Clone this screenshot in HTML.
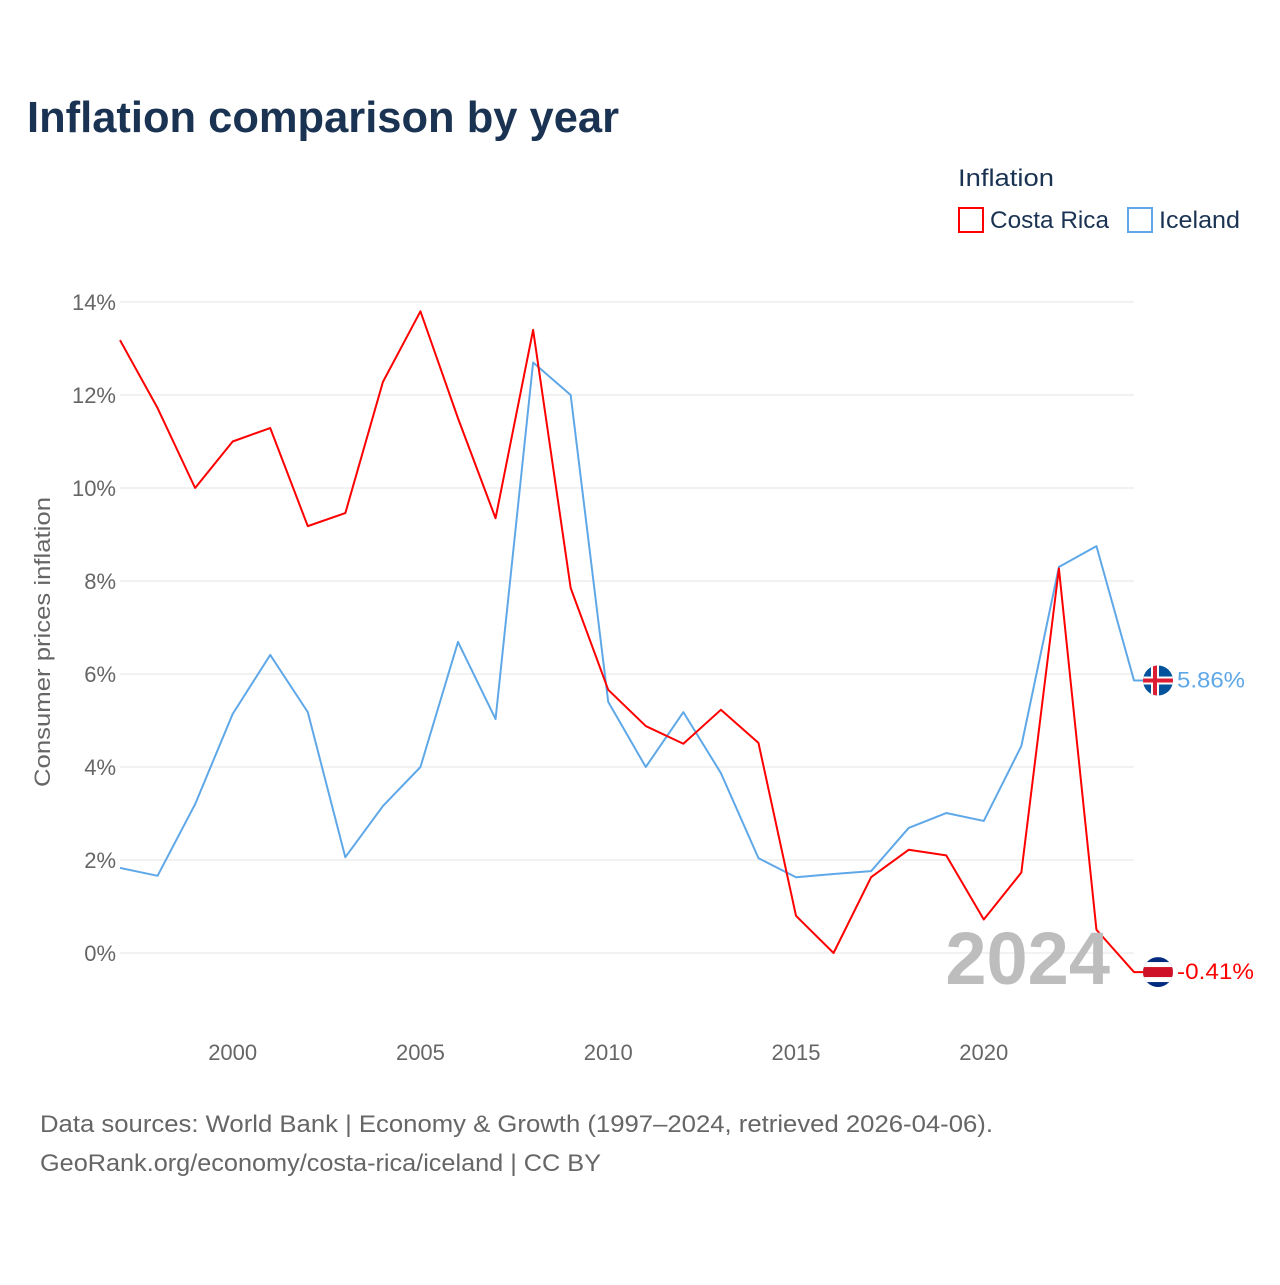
<!DOCTYPE html>
<html><head><meta charset="utf-8"><style>
body{margin:0;background:#fff;font-family:"Liberation Sans",sans-serif}
</style></head><body>
<svg width="1280" height="1280" xmlns="http://www.w3.org/2000/svg" id="svg" font-family="Liberation Sans, sans-serif">
<text x="27" y="132" font-size="44" font-weight="bold" fill="#1b3353" textLength="592" lengthAdjust="spacingAndGlyphs">Inflation comparison by year</text>
<text x="958" y="186" font-size="24" fill="#1b3353" textLength="96" lengthAdjust="spacingAndGlyphs">Inflation</text>
<g><rect x="959" y="208" width="24" height="24" fill="none" stroke="#ff0000" stroke-width="2"/><text x="990" y="228" font-size="24" fill="#1b3353" textLength="119" lengthAdjust="spacingAndGlyphs">Costa Rica</text></g>
<g><rect x="1128" y="208" width="24" height="24" fill="none" stroke="#5fa8e8" stroke-width="2"/><text x="1159" y="228" font-size="24" fill="#1b3353" textLength="81" lengthAdjust="spacingAndGlyphs">Iceland</text></g>
<text transform="translate(50,642) rotate(-90)" text-anchor="middle" font-size="22" fill="#666" textLength="290" lengthAdjust="spacingAndGlyphs">Consumer prices inflation</text>
<g id="grid"></g><g id="lines"></g>
<text x="1110" y="984" text-anchor="end" font-size="74" font-weight="bold" fill="#bdbdbd">2024</text>
<text x="40" y="1132" font-size="24" fill="#666" textLength="953" lengthAdjust="spacingAndGlyphs">Data sources: World Bank | Economy &amp; Growth (1997–2024, retrieved 2026-04-06).</text>
<text x="40" y="1171" font-size="24" fill="#666" textLength="561" lengthAdjust="spacingAndGlyphs">GeoRank.org/economy/costa-rica/iceland | CC BY</text>
</svg>
<script>
const years=[1997,1998,1999,2000,2001,2002,2003,2004,2005,2006,2007,2008,2009,2010,2011,2012,2013,2014,2015,2016,2017,2018,2019,2020,2021,2022,2023,2024];
const costaRica=[13.18,11.72,10.0,11.0,11.29,9.18,9.46,12.28,13.8,11.5,9.35,13.4,7.85,5.66,4.88,4.5,5.23,4.52,0.8,0.0,1.63,2.22,2.1,0.72,1.73,8.27,0.5,-0.41];
const iceland=[1.83,1.66,3.2,5.14,6.41,5.18,2.06,3.16,4.0,6.69,5.03,12.7,12.0,5.4,4.0,5.18,3.87,2.04,1.63,1.7,1.76,2.69,3.01,2.84,4.45,8.3,8.75,5.86];
const yTicks=[0,2,4,6,8,10,12,14];
const xTicks=[2000,2005,2010,2015,2020];
const NS="http://www.w3.org/2000/svg";
const X=y=>120+(y-1997)*(1134-120)/27;
const Y=v=>953-v*46.5;
function mk(t,a,p){const e=document.createElementNS(NS,t);for(const k in a)e.setAttribute(k,a[k]);p.appendChild(e);return e;}
const grid=document.getElementById('grid'),lines=document.getElementById('lines');
yTicks.forEach(v=>{
 const l=mk('line',{x1:120,x2:1134,y1:Y(v),y2:Y(v),stroke:'#e6e6e6','stroke-width':1},grid);
 
 
 const t=mk('text',{x:116,y:Y(v)+8,'text-anchor':'end','font-size':22,fill:'#666'},grid);t.textContent=v+'%';
 
 
});
xTicks.forEach(y=>{
 const t=mk('text',{x:X(y),y:1060,'text-anchor':'middle','font-size':22,fill:'#666'},grid);t.textContent=y;
 
 
});
function series(vals,color,name,label,flag,tl){
 const pts=vals.map((v,i)=>X(years[i])+','+Y(vals[i]));
 const last=Y(vals[vals.length-1]);
 pts.push('1158,'+last);
 const p=mk('polyline',{points:pts.join(' '),fill:'none',stroke:color,'stroke-width':2,'stroke-linejoin':'round'},lines);
 
 
 const g=mk('g',{},lines);
 
 
 flag(g,1158,last);
 const t=mk('text',{x:1177,y:last+7,'font-size':22,fill:color,textLength:tl,lengthAdjust:'spacingAndGlyphs'},lines);t.textContent=label;
 
 
}
series(iceland,'#5fa8e8','iceland','5.86%',(g,x,y)=>{
 const cp=mk('clipPath',{id:'ci'},g);mk('circle',{cx:x,cy:y,r:15},cp);
 const gg=mk('g',{'clip-path':'url(#ci)'},g);
 mk('rect',{x:x-15,y:y-15,width:30,height:30,fill:'#02529c'},gg);
 mk('rect',{x:x-15,y:y-4,width:30,height:8,fill:'#fff'},gg);
 mk('rect',{x:x-7,y:y-15,width:8,height:30,fill:'#fff'},gg);
 mk('rect',{x:x-15,y:y-2,width:30,height:4,fill:'#dc1e35'},gg);
 mk('rect',{x:x-5,y:y-15,width:4,height:30,fill:'#dc1e35'},gg);
},68);
series(costaRica,'#ff0000','costa-rica','-0.41%',(g,x,y)=>{
 const cp=mk('clipPath',{id:'cc'},g);mk('circle',{cx:x,cy:y,r:15},cp);
 const gg=mk('g',{'clip-path':'url(#cc)'},g);
 mk('rect',{x:x-15,y:y-15,width:30,height:30,fill:'#002b7f'},gg);
 mk('rect',{x:x-15,y:y-10,width:30,height:20,fill:'#fff'},gg);
 mk('rect',{x:x-15,y:y-5,width:30,height:10,fill:'#ce1126'},gg);
},77);
</script>
</body></html>
